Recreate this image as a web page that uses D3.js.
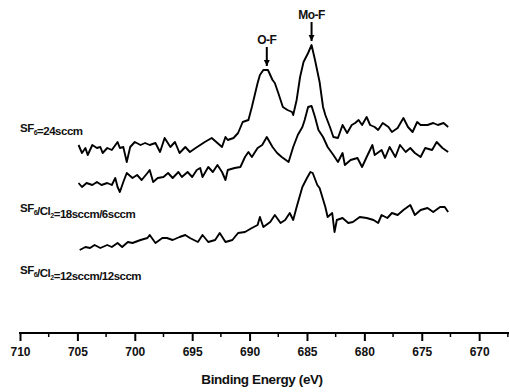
<!DOCTYPE html>
<html>
<head>
<meta charset="utf-8">
<script src="https://cdn.jsdelivr.net/npm/d3@7"></script>
<style>
  body { margin: 0; background: #fff; }
  text { font-family: "Liberation Sans", Arial, sans-serif; font-weight: bold; fill: #111; }
</style>
</head>
<body>
<div id="chart"></div>
<script>
// spectra: [binding energy (eV), intensity (a.u., offset stacked)]
const sf6_24 = [
  [704.9,18.8],[704.6,18.0],[704.3,18.5],[704.1,17.8],[703.7,18.8],[703.3,18.5],[703.0,18.6],[702.8,18.0],
  [702.4,18.5],[702.0,18.3],[701.5,19.1],[701.3,18.5],[701.0,18.6],[700.7,17.1],[700.4,18.6],[700.0,19.1],
  [699.5,18.8],[699.1,19.0],[698.7,18.8],[698.2,19.0],[697.8,18.1],[697.4,19.5],[696.9,18.6],[696.5,19.1],
  [696.1,18.0],[695.6,18.6],[695.2,18.1],[694.7,18.5],[694.3,18.8],[693.9,19.1],[693.3,19.5],[692.8,19.0],
  [692.4,18.6],[692.1,19.6],[691.9,19.3],[691.4,19.5],[691.0,20.0],[690.6,21.1],[690.1,21.3],[689.8,22.6],
  [689.3,25.0],[689.1,25.8],[688.8,26.3],[688.4,26.3],[688.0,25.3],[687.8,25.0],[687.5,24.0],[687.1,22.6],
  [686.7,22.3],[686.3,22.1],[686.2,21.8],[685.9,23.3],[685.6,25.6],[685.3,27.1],[684.9,28.0],[684.6,28.8],
  [684.3,27.3],[683.9,25.1],[683.6,22.6],[683.4,21.8],[683.0,20.6],[682.7,19.6],[682.3,19.5],[681.9,20.8],
  [681.5,20.0],[681.1,20.8],[680.8,21.0],[680.5,21.3],[680.2,20.8],[679.8,21.6],[679.5,20.8],[679.1,20.6],
  [678.8,20.3],[678.4,21.0],[677.9,20.6],[677.6,20.1],[677.1,20.5],[676.6,21.5],[676.2,20.6],[675.8,20.1],
  [675.4,21.1],[675.1,20.8],[674.5,20.8],[674.0,21.0],[673.6,20.8],[673.1,21.0],[672.7,20.6]
];
const sf6_18_cl2_6 = [
  [704.9,15.0],[704.6,14.6],[704.2,15.0],[703.7,14.8],[703.3,15.1],[702.9,14.8],[702.4,15.0],[702.0,14.8],
  [701.7,15.5],[701.5,14.6],[701.3,14.1],[701.0,15.1],[700.7,16.0],[700.2,15.5],[699.8,15.8],[699.4,15.3],
  [698.9,16.0],[698.7,16.3],[698.4,15.1],[698.0,15.5],[697.5,15.6],[697.1,16.0],[696.7,15.5],[696.2,16.1],
  [695.9,15.6],[695.4,16.1],[695.0,15.6],[694.6,16.3],[694.3,16.5],[694.1,15.6],[693.6,16.6],[693.2,16.1],
  [692.8,16.8],[692.4,16.1],[692.1,15.3],[691.9,16.3],[691.3,16.5],[690.8,16.6],[690.4,17.6],[690.1,18.1],
  [689.8,17.6],[689.3,18.5],[688.9,18.8],[688.5,19.6],[688.0,18.6],[687.6,18.0],[687.2,17.6],[686.6,17.1],
  [686.2,18.6],[685.8,19.8],[685.4,20.6],[685.2,21.3],[684.9,22.6],[684.6,22.7],[684.3,21.6],[684.0,20.3],
  [683.6,19.6],[683.2,18.6],[682.7,17.8],[682.3,17.1],[681.9,18.0],[681.7,16.8],[681.2,17.3],[680.6,17.5],
  [680.2,16.6],[679.8,17.6],[679.3,18.8],[679.1,17.8],[678.5,18.3],[678.2,17.5],[677.8,18.6],[677.3,17.6],
  [676.9,18.8],[676.4,18.1],[676.0,18.5],[675.6,18.0],[675.1,17.6],[674.7,18.5],[674.1,18.3],[673.7,19.1],
  [673.2,18.5],[672.7,18.1]
];
const sf6_12_cl2_12 = [
  [704.8,8.3],[704.3,8.6],[703.9,8.5],[703.5,8.8],[703.0,8.5],[702.4,8.8],[702.0,8.6],[701.5,9.0],
  [701.1,8.6],[700.6,9.1],[700.2,9.0],[699.5,9.3],[698.9,9.5],[698.7,9.8],[698.2,9.0],[697.6,9.5],
  [697.2,9.5],[696.7,9.3],[696.1,9.6],[695.6,9.8],[695.2,9.5],[694.5,9.1],[694.1,9.8],[693.6,9.1],
  [693.0,9.3],[692.6,10.0],[692.1,9.1],[691.5,9.3],[691.0,10.0],[690.4,10.1],[689.8,10.5],[689.3,10.8],
  [689.1,11.6],[688.8,10.6],[688.2,11.1],[687.8,11.8],[687.3,11.0],[686.9,11.3],[686.5,12.0],[686.2,11.3],
  [685.9,12.6],[685.4,14.6],[685.0,15.5],[684.7,16.1],[684.5,16.0],[684.1,14.8],[683.9,14.5],[683.4,12.6],
  [683.2,11.6],[682.8,12.0],[682.6,10.1],[682.4,11.3],[681.9,11.5],[681.4,11.0],[681.0,11.1],[680.4,11.6],
  [679.8,11.5],[679.2,11.3],[678.8,11.0],[678.5,11.8],[678.0,11.5],[677.6,12.0],[677.1,11.8],[676.6,12.3],
  [676.0,12.8],[675.6,11.8],[675.1,12.3],[674.5,12.5],[674.0,12.1],[673.4,12.6],[673.0,12.6],[672.7,12.1]
];

const majorTicks = [710, 705, 700, 695, 690, 685, 680, 675, 670];
const minorTicks = [707.5, 702.5, 697.5, 692.5, 687.5, 682.5, 677.5, 672.5, 667.5];
const peaks = [{ name: "O-F", e: 688.5, v: 26.3 }, { name: "Mo-F", e: 684.6, v: 28.8 }];

const width = 509, height = 392;
const svg = d3.select("#chart").append("svg")
  .attr("width", width).attr("height", height);

const x = d3.scaleLinear().domain([710, 667.4]).range([20, 509]);
const y = d3.scaleLinear().domain([0, 30]).range([333, 33]);

// axis
const axisG = svg.append("g").attr("transform", "translate(0,333)");
axisG.call(d3.axisBottom(x).tickValues(majorTicks).tickSize(8).tickPadding(6).tickFormat(d3.format("d")));
axisG.select(".domain").attr("stroke-width", 2).attr("d", "M19,0H509");
axisG.selectAll(".tick line").attr("stroke-width", 2);
axisG.selectAll(".tick text").attr("font-size", 12).attr("fill", "#111").style("font-family", "Liberation Sans, Arial").style("font-weight", "bold");
axisG.selectAll(".minor").data(minorTicks).enter().append("line")
  .attr("class", "minor")
  .attr("x1", d => x(d)).attr("x2", d => x(d))
  .attr("y1", 0).attr("y2", 4)
  .attr("stroke", "#000").attr("stroke-width", 1.5);

svg.append("text")
  .attr("x", 262).attr("y", 384)
  .attr("text-anchor", "middle")
  .attr("font-size", 13.5)
  .attr("letter-spacing", -0.4)
  .text("Binding Energy (eV)");

// spectra
const line = d3.line().x(d => x(d[0])).y(d => y(d[1]));
[sf6_24, sf6_18_cl2_6, sf6_12_cl2_12].forEach(s => {
  svg.append("path")
    .datum(s)
    .attr("d", line)
    .attr("fill", "none")
    .attr("stroke", "#000")
    .attr("stroke-width", 1.9)
    .attr("stroke-linejoin", "round");
});

// labels with subscripts
function label(yPos, parts) {
  const t = svg.append("text").attr("x", 20).attr("y", yPos)
    .attr("font-size", 11.5).attr("letter-spacing", -0.5);
  parts.forEach(p => {
    if (p.sub) {
      t.append("tspan").attr("font-size", 7).attr("dy", 3).text(p.sub);
      t.append("tspan").attr("dy", -3).text("");
    } else {
      t.append("tspan").text(p.t);
    }
  });
}
label(132, [{ t: "SF" }, { sub: "6" }, { t: "=24sccm" }]);
label(212, [{ t: "SF" }, { sub: "6" }, { t: "/Cl" }, { sub: "2" }, { t: "=18sccm/6sccm" }]);
label(274, [{ t: "SF" }, { sub: "6" }, { t: "/Cl" }, { sub: "2" }, { t: "=12sccm/12sccm" }]);

// peak annotations
svg.append("defs").append("marker")
  .attr("id", "ah").attr("viewBox", "0 0 10 10")
  .attr("refX", 10).attr("refY", 5)
  .attr("markerWidth", 3.2).attr("markerHeight", 3.6)
  .attr("markerUnits", "strokeWidth")
  .attr("orient", "auto")
  .append("path").attr("d", "M0,0L10,5L0,10Z").attr("fill", "#000");

peaks.forEach(p => {
  const px = x(p.e), top = y(p.v);
  svg.append("line")
    .attr("x1", px).attr("x2", px)
    .attr("y1", top - 23).attr("y2", top - 4)
    .attr("stroke", "#000").attr("stroke-width", 2)
    .attr("marker-end", "url(#ah)");
  svg.append("text")
    .attr("x", px).attr("y", top - 26)
    .attr("text-anchor", "middle")
    .attr("font-size", 12).attr("letter-spacing", -0.5)
    .text(p.name);
});
</script>
</body>
</html>
